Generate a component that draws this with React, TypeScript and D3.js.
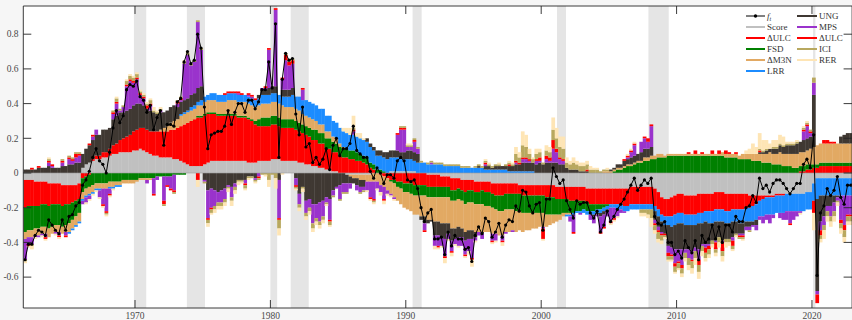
import * as d3 from "d3";

// quarterly data, first bar = 1961Q4, values in hundredths
const firstQuarter = 1961.75;

const ft = [
  -50, -41, -41, -36, -33, -34, -36, -27, -30, -33, -35, -27, -33, -25, -24, -19, -17,
  -7, -4, 1, 9, 14, 7, 5, 0, 12, 26, 36, 29, 33, 48, 51, 50, 53, 44, 42, 35,
  39, 25, 32, 36, 16, 28, 28, 27, 41, 43, 64, 70, 63, 65, 80, 72, 38, 14, 22, 23,
  24, 24, 27, 36, 28, 35, 40, 40, 35, 42, 42, 37, 41, 48, 48, 64, 49, 86, 9, 54,
  69, 65, 66, 34, 22, 38, 15, 17, 6, 9, 5, 8, 14, 2, 16, 20, 10, 14, 14, 17,
  27, 13, 11, 9, 9, 1, -3, 3, 0, -6, -1, -1, -3, 7, 9, 7, -4, -5, -4, -9,
  -20, -28, -23, -21, -38, -38, -37, -47, -34, -42, -36, -38, -38, -44, -43, -51, -36, -31, -35, -26,
  -28, -37, -34, -29, -37, -30, -27, -28, -19, -22, -10, -11, -19, -23, -18, -17, -33, -15, -15, 3,
  -2, -6, -4, -16, -21, -26, -16, -18, -17, -17, -23, -26, -22, -34, -30, -22, -28, -25, -21, -18,
  -15, -11, -7, -3, -10, -7, -4, -6, -3, -25, -29, -30, -28, -40, -40, -47, -45, -49, -39, -43,
  -46, -39, -50, -36, -40, -38, -30, -38, -31, -40, -30, -30, -34, -25, -28, -28, -20, -19, -13, -17,
  -3, -9, -7, -11, -6, -4, -4, -6, -9, -12, -9, -6, -6, 5, 8, 3, 22, -59, -23, -19,
  -9, -13, -10, -2, -14, -18, -7, -7,
];

const score = [
  -4, -4, -4, -5, -5, -5, -5, -6, -6, -6, -6, -7, -7, -7, -7, -7, -6,
  3, 5, 6, 7, 8, 8, 9, 9, 10, 11, 11, 12, 12, 12, 12, 13, 13, 14, 13, 12,
  11, 10, 10, 9, 9, 9, 9, 8, 8, 7, 6, 5, 4, 4, 4, 4, 5, 6, 7, 7,
  7, 7, 7, 7, 7, 7, 7, 7, 7, 6, 6, 6, 7, 7, 7, 7, 8, 8, 8, 7,
  7, 7, 7, 7, 6, 6, 5, 5, 4, 4, 3, 3, 2, 2, 1, 1, 0, 0, -1, -1,
  -1, -1, -1, -1, -1, -1, 0, 0, 0, 0, 0, 1, 1, 1, 1, 1, 1, 1, 1, 0,
  0, 0, -1, -1, -1, -1, -2, -2, -2, -3, -3, -3, -4, -4, -4, -4, -5, -5, -5, -5,
  -5, -6, -6, -6, -6, -6, -6, -6, -6, -7, -7, -7, -7, -7, -7, -7, -7, -7, -7, -7,
  -8, -8, -8, -8, -8, -8, -8, -8, -8, -9, -9, -9, -9, -9, -9, -9, -9, -9, -9, -9,
  -9, -9, -8, -8, -8, -8, -8, -8, -8, -9, -11, -14, -15, -15, -14, -13, -12, -12, -13, -13,
  -13, -13, -12, -12, -12, -12, -12, -11, -11, -11, -12, -12, -12, -12, -12, -12, -12, -13, -13, -13,
  -13, -13, -13, -13, -13, -12, -12, -12, -12, -12, -12, -12, -12, -12, -11, -11, -6, -3, -3, -3,
  -3, -3, -3, -3, -3, -3, -3, -3,
];

const dulc1 = [
  -16, -15, -15, -14, -14, -13, -13, -13, -12, -12, -12, -12, -11, -11, -10, -9, -9,
  -3, -2, -1, 1, 2, 2, 3, 3, 4, 5, 6, 7, 8, 9, 10, 11, 12, 12, 13, 13,
  13, 14, 14, 15, 15, 15, 16, 17, 18, 20, 22, 24, 26, 27, 28, 28, 28, 28, 27, 27,
  26, 26, 26, 26, 26, 26, 25, 25, 25, 25, 24, 22, 20, 20, 20, 20, 20, 20, 19, 19,
  19, 19, 19, 18, 18, 17, 17, 16, 15, 15, 14, 14, 12, 12, 11, 11, 10, 9, 9, 8,
  8, 7, 7, 6, 5, 3, 2, 0, -1, -2, -3, -4, -4, -5, -5, -6, -6, -6, -7, -7,
  -7, -7, -7, -7, -7, -7, -6, -6, -6, -7, -7, -6, -6, -7, -6, -6, -6, -6, -5, -6,
  -6, -6, -7, -7, -7, -6, -6, -6, -6, -5, -6, -6, -6, -6, -6, -6, -6, -7, -7, -7,
  -7, -7, -7, -7, -8, -8, -8, -8, -8, -8, -9, -9, -9, -9, -9, -9, -9, -9, -9, -9,
  -10, -10, -10, -10, -10, -10, -10, -10, -10, -10, -10, -10, -10, -10, -11, -11, -11, -11, -11, -11,
  -11, -11, -11, -11, -10, -10, -10, -10, -10, -10, -10, -10, -9, -9, -9, -9, -8, -7, -6, -5,
  -3, -2, -1, -1, -1, -1, -1, -1, 0, 0, 0, 0, 1, 1, 2, 2, 3, 3, 4, 4,
  4, 4, 4, 4, 4, 4, 4, 4,
];

const fsd = [
  -14, -14, -14, -13, -13, -13, -13, -13, -13, -12, -12, -12, -12, -11, -10, -9, -8,
  -8, -7, -7, -7, -6, -6, -6, -6, -5, -5, -5, -5, -4, -4, -4, -4, -4, -3, -3, -3,
  -3, -3, -2, -2, -2, -2, -2, -1, -1, -1, -1, 0, 0, 0, 1, 1, 1, 1, 1, 1,
  1, 1, 1, 1, 1, 1, 1, 1, 1, 1, 1, 2, 4, 5, 5, 5, 5, 5, 5, 5,
  5, 5, 5, 5, 5, 5, 5, 5, 6, 6, 6, 6, 6, 6, 6, 5, 5, 5, 5, 5,
  5, 5, 4, 4, 4, 3, 3, 2, 2, 1, 0, -1, -2, -3, -4, -5, -5, -6, -6, -6,
  -6, -6, -6, -6, -6, -6, -6, -6, -6, -6, -6, -6, -6, -7, -7, -7, -7, -7, -8, -8,
  -8, -8, -8, -9, -9, -9, -9, -9, -10, -10, -10, -10, -10, -10, -10, -10, -10, -10, -10, -10,
  -9, -9, -8, -8, -7, -7, -6, -6, -5, -5, -4, -4, -3, -3, -2, -1, 0, 1, 2, 2,
  3, 4, 4, 5, 6, 6, 7, 7, 8, 8, 9, 9, 9, 10, 10, 10, 10, 10, 10, 10,
  10, 10, 10, 10, 10, 10, 10, 10, 10, 10, 9, 9, 9, 9, 8, 8, 8, 8, 7, 7,
  7, 6, 6, 6, 5, 5, 5, 4, 4, 4, 3, 3, 3, 3, 3, 3, 2, 2, 2, 2,
  2, 2, 2, 2, 2, 2, 2, 2,
];

const dm3n = [
  -4, -4, -4, -4, -4, -4, -4, -5, -4, -4, -4, -4, -4, -5, -5, -5, -5,
  -4, -4, -4, -4, -3, -3, -3, -3, -3, -3, -2, -2, -2, -2, -2, -2, -1, -1, -1, -1,
  -1, 0, 0, 1, 2, 3, 4, 5, 5, 6, 6, 6, 6, 6, 6, 6, 7, 7, 7, 7,
  7, 7, 7, 8, 8, 8, 8, 8, 8, 8, 8, 8, 8, 8, 8, 8, 8, 8, 8, 8,
  7, 7, 7, 7, 7, 6, 6, 6, 6, 5, 5, 5, 4, 4, 3, 3, 2, 1, 0, -1,
  -2, -2, -3, -3, -4, -4, -5, -5, -6, -6, -7, -7, -8, -8, -9, -9, -10, -10, -11, -11,
  -12, -12, -13, -13, -14, -14, -15, -15, -15, -16, -16, -16, -16, -16, -16, -16, -16, -16, -16, -15,
  -15, -15, -14, -14, -14, -13, -13, -12, -12, -11, -11, -10, -10, -9, -9, -8, -8, -7, -6, -5,
  -4, -3, -2, -1, -1, 0, 0, 0, 0, 0, 0, 0, 0, 0, 1, 1, 1, 1, 1, 1,
  1, 1, 1, 1, 1, 1, 2, 2, 2, 2, 2, 2, 1, 1, 1, 1, 1, 1, 1, 1,
  1, 1, 1, 1, 1, 1, 1, 1, 1, 2, 2, 2, 2, 2, 2, 3, 3, 3, 4, 4,
  4, 5, 5, 6, 6, 6, 7, 7, 7, 7, 8, 8, 8, 8, 8, 9, 10, 11, 11, 11,
  11, 11, 11, 11, 11, 11, 11, 11,
];

const lrr = [
  0, 0, 0, 0, 0, 0, 0, 0, 0, 0, 0, 0, 0, -1, -1, -1, -1,
  -1, -1, -1, -1, -1, -1, 0, 0, -1, -1, -1, -1, 0, 0, 0, 0, 0, 0, 0, 0,
  0, 0, 0, 0, 0, 0, 0, 0, 0, 1, 1, 1, 2, 2, 2, 3, 3, 3, 4, 4,
  4, 4, 4, 4, 4, 4, 4, 4, 4, 4, 4, 4, 4, 5, 5, 5, 5, 5, 5, 5,
  6, 6, 7, 7, 8, 8, 9, 9, 9, 9, 9, 9, 9, 9, 9, 9, 9, 9, 9, 9,
  9, 9, 9, 9, 9, 9, 8, 8, 8, 8, 8, 8, 8, 8, 7, 7, 7, 7, 6, 6,
  6, 6, 5, 5, 5, 5, 5, 4, 4, 4, 4, 4, 3, 3, 3, 3, 3, 3, 3, 2,
  2, 2, 2, 2, 2, 2, 1, 1, 1, 1, 1, 1, 1, 1, 0, 0, 0, 0, 0, 0,
  0, 0, 0, -1, -1, -1, -1, -1, -2, -2, -2, -2, -2, -2, -2, -2, -2, -2, -3, -3,
  -3, -3, -3, -3, -3, -3, -3, -3, -3, -3, -4, -4, -5, -5, -6, -6, -6, -6, -6, -6,
  -6, -6, -6, -6, -6, -7, -7, -7, -7, -7, -7, -7, -7, -7, -8, -8, -8, -8, -9, -9,
  -9, -10, -10, -10, -10, -10, -10, -10, -10, -10, -10, -10, -10, -10, -10, -10, -10, -12, -10, -10,
  -10, -10, -10, -10, -10, -10, -10, -10,
];

const ung = [
  2, 2, 2, 2, 3, 3, 3, 4, 3, 3, 3, 4, 4, 5, 5, 6, 6,
  8, 9, 10, 11, 12, 12, 13, 13, 12, 15, 16, 16, 15, 15, 15, 15, 15, 14, 13, 12,
  12, 11, 10, 10, 9, 9, 9, 9, 7, 7, 7, 7, 7, 7, 8, 8, -4, -10, -9, -10,
  -11, -10, -9, -7, -8, -6, -4, -4, -4, -2, -2, -3, 2, 3, 3, 4, 4, 4, -4, 4,
  4, 4, 4, -3, -12, -8, -16, -15, -18, -18, -17, -16, -14, -15, -10, -8, -7, -6, -5, -4,
  -3, -4, -4, -4, 2, 2, 2, 3, 3, 3, 4, 4, 4, 4, 4, 4, 5, 5, 5, 5,
  -2, -4, -2, -1, -8, -8, -8, -9, -6, -7, -6, -6, -5, -5, -5, -5, -3, 1, -1, 2,
  2, 1, 2, 2, 2, 2, 3, 3, 4, 4, 5, 5, 5, 5, 5, 6, 5, 6, 6, 6,
  6, 5, 5, 3, 2, 2, 2, 1, 1, 1, 0, -1, -1, -2, -2, -1, 1, 1, 2, 2,
  3, 3, 4, 4, 4, 5, 5, 5, 5, -5, -6, -6, -5, -12, -12, -14, -15, -15, -14, -14,
  -15, -13, -15, -12, -13, -12, -10, -11, -9, -11, -9, -9, -9, -7, -6, -6, -3, -3, -2, -3,
  1, 1, 2, 2, 3, 3, 4, 4, 5, 5, 5, 6, 6, 7, 7, 7, 30, -53, -15, -12,
  -6, -6, -4, -1, 4, 5, 6, 6,
];

const mps = [
  -12, -4, -4, -1, -1, -1, -2, 2, 1, -1, -2, 2, -2, 3, 2, 3, 4,
  -2, -3, -2, 2, 3, -4, -9, -13, -3, 3, 7, 1, 3, 14, 16, 13, 14, 5, 4, -2,
  3, -9, -2, 1, -14, -5, -7, -9, 2, 1, 21, 25, 17, 18, 38, 21, -1, -16, -11, -9,
  -6, -7, -6, -1, -6, -2, 1, 0, -2, 1, 1, -1, -2, 1, 1, 22, 0, 44, -22, 6,
  17, 14, 14, -4, -6, 6, -7, -5, -11, -8, -11, -9, -3, -12, -3, -1, -8, -5, -5, -3,
  2, -3, -3, -2, -5, -9, -10, -4, -4, -7, -2, -1, -1, 9, 13, 13, 2, 2, 6, 3,
  0, -4, 0, 1, -6, -6, -5, -10, -3, -6, -3, -5, -5, -8, -7, -11, -2, -2, -3, 1,
  0, -4, -4, 0, -3, -1, 0, -1, 1, 0, 2, 2, 1, 0, 2, 1, -1, 2, 1, 8,
  6, 3, 2, 0, -3, -10, 0, -1, 0, 0, -3, -4, -1, -9, -7, -3, -8, -6, -4, -2,
  -1, 1, 3, 6, 0, 6, 6, 4, 12, -2, -2, -1, 0, -4, -4, -8, -7, -9, -2, -5,
  -5, -2, -6, -1, -2, -1, 0, -1, 0, -1, 0, 0, -2, 0, -1, -1, -2, -2, -1, -3,
  -2, -4, -3, -5, -2, 0, -3, -4, -5, -7, -5, -3, -1, 5, 7, 2, 7, -2, -5, -5,
  -3, -6, -5, -2, -14, -17, -11, -11,
];

const dulc2 = [
  0, -1, 1, 0, 1, 0, -1, 1, 1, 0, -1, 1, -1, 1, 1, 2, 1,
  0, 0, 1, 1, 0, 0, -1, -1, -1, 1, 1, 0, 0, 1, 1, 1, 1, 1, 1, 2,
  1, -1, 0, 0, -2, -1, -1, -1, 1, 1, 0, 0, 0, 0, -4, 0, 0, -1, -1, 0,
  0, 0, 1, 1, 1, 1, 1, 1, -1, 1, 1, 1, -1, 0, 1, 1, 0, 1, -1, 1,
  3, 2, 2, -1, 0, 1, 0, 0, 0, 0, 0, 0, 0, -1, 0, 0, 0, 0, 0, 0,
  1, 0, 0, 0, 0, -1, -1, 0, 0, -1, 0, 0, 0, 1, 1, 1, 0, 0, 1, 0,
  0, -1, 0, 0, 0, -1, 0, -1, 0, -1, 0, 0, 0, -1, 0, -1, 0, 0, 0, 1,
  0, -1, 0, 0, -1, 0, 1, 0, 1, 1, 1, 1, 1, 0, 1, 2, -6, 2, 2, 5,
  2, 1, 1, 0, 0, -1, 0, 0, 0, 1, 0, 0, 0, -1, -1, 0, -1, -1, 0, 0,
  1, 1, 1, 1, 0, 0, 1, 2, 1, -1, -1, -1, -1, -2, -1, -2, -1, -2, 0, 1,
  -1, 2, -3, 1, -3, -2, 2, -4, 2, -5, 2, 1, -3, 1, -1, -1, 0, 0, 0, 0,
  1, 0, 0, 0, 0, 0, 0, 0, 0, -1, 0, 0, 0, 1, 1, 1, -7, -5, -3, 2,
  2, 1, 1, 0, -2, -3, -1, -1,
];

const ici = [
  -1, 0, -1, 0, 0, 0, 0, 1, 0, 0, 0, 1, 0, 1, 1, 1, 1,
  0, 0, 0, 0, 0, 0, 0, -1, 0, 1, 2, 1, 1, 2, 2, 2, 2, 1, 1, 1,
  2, 1, 1, 1, -1, 0, 0, -1, 1, 1, 1, 1, 1, 1, 1, 1, -1, -2, -2, -2,
  -2, -2, -2, -1, -2, -2, -1, -1, -2, -1, -1, -1, -1, -1, -1, -4, -1, -3, -5, 0,
  1, 1, 1, -1, -2, -1, -2, -2, -3, -2, -2, -2, -1, -2, -1, 0, -1, -1, -1, 0,
  1, 0, -1, -1, 0, 0, -1, 0, 0, 0, 0, 0, 0, 0, 1, 1, 1, 1, 1, 1,
  1, 0, 1, 1, 1, 1, 1, 1, 1, 1, 1, 1, 1, 1, 1, 0, 1, 1, 1, 1,
  1, 1, 1, 1, 0, 1, 1, 1, 4, 3, 7, 6, 3, 2, 3, 3, 1, 3, 3, 6,
  6, 6, 6, 3, 3, 4, 3, 3, 3, 3, 2, 2, 2, 1, 1, 1, 0, 0, 0, 0,
  0, 0, 0, 0, 0, -2, -2, -3, -5, -3, -4, -3, -1, -2, -2, -3, -3, -3, -3, -4,
  -4, -4, -4, -3, -3, -3, -2, -2, -3, -3, -2, -2, -2, -1, -1, -1, 0, -1, 0, 0,
  1, 1, 1, 0, 1, 1, 1, 1, 1, 1, 1, 1, 0, 1, 1, 1, 3, 0, -2, -3,
  -3, -3, -3, -1, -3, -4, -3, -3,
];

const rer = [
  -1, -1, -2, -1, 0, -1, -1, 1, 0, -1, -1, 0, 0, 0, 0, 0, 0,
  0, -1, -1, -1, -1, -1, -1, -1, -1, -1, 1, 0, 0, 1, 1, 1, 1, 1, 1, 1,
  1, 2, 1, 1, 0, 0, 0, 0, 0, 0, 1, 1, 0, 0, -4, 0, 0, -2, -1, -2,
  -2, -2, -2, -2, -3, -2, -2, -1, -1, -1, 0, -1, 0, 0, -1, -4, 0, -6, -4, -1,
  0, 0, 0, -1, -2, -2, -2, -2, -2, -2, -2, -2, -1, -1, 0, 0, 0, 2, 3, 4,
  7, 2, 3, 1, -1, -1, -1, -1, -2, -2, -1, -1, -1, 0, 0, 0, 1, 1, 0, 0,
  0, 0, 0, 0, -2, -1, -1, -3, -1, -2, -1, -1, 0, -1, -2, -4, -1, 0, 0, 1,
  1, -1, -1, 1, -2, 0, 1, 1, 4, 3, 8, 7, 3, 1, 3, 2, -1, 3, 3, 7,
  6, 6, 7, 3, 2, 3, 2, 2, 2, 2, 2, 1, 1, 0, 0, 1, -1, -1, -1, 0,
  0, 1, 1, 1, 0, -2, -2, -2, -5, -2, -2, -2, -1, -1, -1, -1, -1, -2, -2, -3,
  -3, -4, -4, -3, -2, -2, -2, -2, -3, -3, -3, -2, -1, -1, 0, -1, 2, 3, 6, 4,
  9, 6, 5, 3, 4, 4, 5, 5, 1, 1, 1, 1, -1, 1, 1, 0, -10, 0, -2, -5,
  -3, -3, -3, -2, -3, -3, -2, -2,
];

const recessions = [
  [1969.92, 1970.83], [1973.83, 1975.17], [1980.0, 1980.5], [1981.5, 1982.83],
  [1990.5, 1991.17], [2001.17, 2001.83], [2007.92, 2009.42], [2020.08, 2020.25],
];

const xTicks = [1970, 1980, 1990, 2000, 2010, 2020];
const yTicks = [-0.6, -0.4, -0.2, 0, 0.2, 0.4, 0.6, 0.8];

const series = [
  { key: "score", label: "Score", color: "#c0c0c0", values: score },
  { key: "dulc1", label: "ΔULC", color: "#ff0000", values: dulc1 },
  { key: "fsd", label: "FSD", color: "#008000", values: fsd },
  { key: "dm3n", label: "ΔM3N", color: "#e2a963", values: dm3n },
  { key: "lrr", label: "LRR", color: "#1c8cff", values: lrr },
  { key: "ung", label: "UNG", color: "#3f3832", values: ung },
  { key: "mps", label: "MPS", color: "#9a33cc", values: mps },
  { key: "dulc2", label: "ΔULC", color: "#ff0000", values: dulc2 },
  { key: "ici", label: "ICI", color: "#b8a85f", values: ici },
  { key: "rer", label: "RER", color: "#fee5b5", values: rer },
];

const FONT = "'Liberation Serif', 'DejaVu Serif', serif";

export default function App() {
  const W = 852, H = 320;
  const left = 23.3, right = 852.6, top = 6, bottom = 308;

  const x = d3.scaleLinear().domain([firstQuarter, 2023]).range([left, right]);
  const y = d3.scaleLinear().domain([-0.778, 0.9625]).range([bottom, top]);

  const rows = ft.map((_, i) => {
    const r: any = { t: firstQuarter + i / 4 };
    series.forEach((s) => (r[s.key] = s.values[i] / 100));
    return r;
  });

  const stacked = d3
    .stack()
    .keys(series.map((s) => s.key))
    .offset(d3.stackOffsetDiverging)(rows);

  const bw = x(firstQuarter + 0.25) - x(firstQuarter);

  const line = d3
    .line<number>()
    .x((_, i) => x(firstQuarter + i / 4 + 0.125))
    .y((v) => y(v / 100));

  const leftCol = [{ label: "ft", color: "#000" }, ...series.slice(0, 5)];
  const rightCol = series.slice(5);

  return (
    <div style={{ position: "fixed", left: 0, top: 0 }}>
      <svg width={W} height={H} style={{ display: "block" }} fontFamily={FONT}>
        <defs>
          <clipPath id="plot">
            <rect x={left} y={top} width={right - left} height={bottom - top} />
          </clipPath>
        </defs>
        <rect width={W} height={H} fill="#f6f6f6" />
        <rect x={left} y={top} width={right - left} height={bottom - top} fill="#fff" />

        <g clipPath="url(#plot)">
          {recessions.map(([a, b], i) => (
            <rect key={i} x={x(a)} y={top} width={x(b) - x(a)} height={bottom - top} fill="#e5e5e5" />
          ))}
          {stacked.map((layer, si) => (
            <g key={series[si].key} fill={series[si].color}>
              {layer.map((d, i) => {
                const y0 = y(d[0]), y1 = y(d[1]);
                if (Math.abs(y0 - y1) < 0.01) return null;
                return (
                  <rect
                    key={i}
                    x={x(rows[i].t)}
                    y={Math.min(y0, y1)}
                    width={bw + 0.35}
                    height={Math.abs(y0 - y1)}
                  />
                );
              })}
            </g>
          ))}
          <line x1={left} x2={right} y1={y(0)} y2={y(0)} stroke="#9a9a9a" strokeWidth={0.6} />
          <path d={line(ft) || ""} fill="none" stroke="#000" strokeWidth={1} />
          {ft.map((v, i) => (
            <circle key={i} cx={x(firstQuarter + i / 4 + 0.125)} cy={y(v / 100)} r={1.6} fill="#000" />
          ))}
        </g>

        {/* axes box with inward ticks */}
        <g stroke="#262626" strokeWidth={0.9} fill="none">
          <line x1={left} x2={left} y1={top} y2={bottom} />
          <line x1={left} x2={right} y1={bottom} y2={bottom} />
          <line x1={left} x2={right} y1={top} y2={top} />
          <line x1={right - 0.5} x2={right - 0.5} y1={top} y2={bottom} />
          {yTicks.map((t) => (
            <g key={t}>
              <line x1={left} x2={left + 8} y1={y(t)} y2={y(t)} />
              <line x1={right - 9} x2={right} y1={y(t)} y2={y(t)} />
            </g>
          ))}
          {xTicks.map((t) => (
            <g key={t}>
              <line x1={x(t)} x2={x(t)} y1={bottom} y2={bottom - 8} />
              <line x1={x(t)} x2={x(t)} y1={top} y2={top + 8} />
            </g>
          ))}
        </g>

        <g fontSize={9.5} fill="#4a4a4a">
          {yTicks.map((t) => (
            <text key={t} x={18.5} y={y(t) + 3.2} textAnchor="end">
              {t === 0 ? "0" : t.toFixed(1)}
            </text>
          ))}
          {xTicks.map((t) => (
            <text key={t} x={x(t)} y={319} textAnchor="middle">
              {t}
            </text>
          ))}
        </g>

        {/* legend */}
        <g fontSize={9} fill="#333">
          {leftCol.map((s, i) => {
            const yy = 16 + i * 11;
            return (
              <g key={"l" + i}>
                {i === 0 ? (
                  <>
                    <line x1={746} x2={765} y1={yy} y2={yy} stroke="#000" strokeWidth={1} />
                    <circle cx={755.5} cy={yy} r={1.7} fill="#000" />
                    <text x={767} y={yy + 3}>
                      <tspan fontStyle="italic">f</tspan>
                      <tspan fontStyle="italic" fontSize={6} dy={2}>t</tspan>
                    </text>
                  </>
                ) : (
                  <>
                    <line x1={746} x2={765} y1={yy} y2={yy} stroke={s.color} strokeWidth={2} />
                    <text x={767} y={yy + 3}>{s.label}</text>
                  </>
                )}
              </g>
            );
          })}
          {rightCol.map((s, i) => {
            const yy = 16 + i * 11;
            return (
              <g key={"r" + i}>
                <line x1={797} x2={817} y1={yy} y2={yy} stroke={s.color} strokeWidth={2} />
                <text x={819} y={yy + 3}>{s.label}</text>
              </g>
            );
          })}
        </g>
      </svg>
    </div>
  );
}
